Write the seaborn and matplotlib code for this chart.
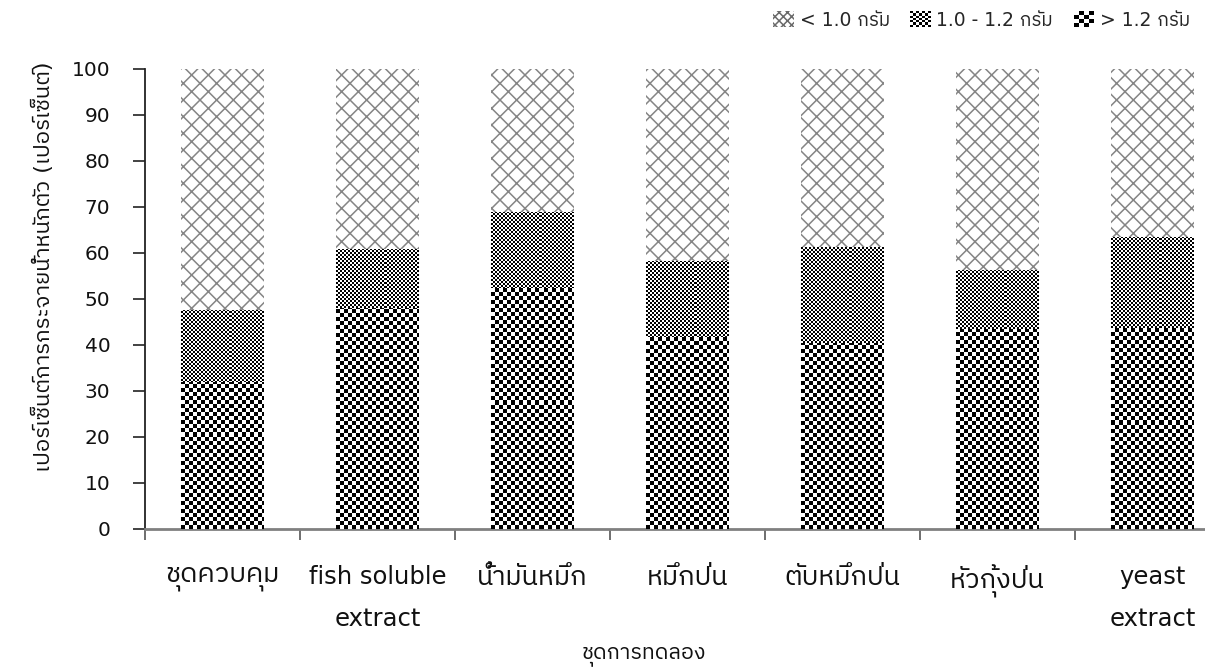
import numpy as np
import pandas as pd
import matplotlib
matplotlib.use("Agg")
import matplotlib.pyplot as plt
import seaborn as sns
from matplotlib import font_manager
from matplotlib.ft2font import FT2Font
from matplotlib.patches import Patch, Rectangle
from matplotlib.legend_handler import HandlerBase

# ---- data -------------------------------------------------------------
categories = ["ชุดควบคุม", "fish soluble\nextract", "น้ำมันหมึก", "หมึกป่น",
              "ตับหมึกป่น", "หัวกุ้งป่น", "yeast\nextract"]
over_12 = [32.0, 48.0, 52.4, 41.7, 40.4, 43.5, 43.7]      # > 1.2 g
mid_10_12 = [15.6, 12.9, 16.5, 16.6, 20.9, 12.8, 19.8]    # 1.0 - 1.2 g
under_10 = [52.4, 39.1, 31.1, 41.7, 38.7, 43.7, 36.5]     # < 1.0 g
series_labels = ["< 1.0 กรัม", "1.0 - 1.2 กรัม", "> 1.2 กรัม"]
y_ticks = [0, 10, 20, 30, 40, 50, 60, 70, 80, 90, 100]
x_title = "ชุดการทดลอง"
y_title = "เปอร์เซ็นต์การกระจายน้ำหนักตัว (เปอร์เซ็นต์)"


def thai_family():
    best = None
    for f in font_manager.fontManager.ttflist:
        try:
            cmap = FT2Font(f.fname).get_charmap()
        except Exception:
            continue
        if 0x0E01 in cmap and 0x0E49 in cmap:
            if "Thai" in f.name or "Tahoma" in f.name:
                return f.name
            best = best or f.name
    return best


def is_thai(s):
    return any(0x0E00 <= ord(c) <= 0x0E7F for c in s)


sns.set_theme(style="ticks")
fam = ["DejaVu Sans"]
tf = thai_family()
if tf:
    fam.append(tf)
plt.rcParams["font.family"] = fam
plt.rcParams["hatch.linewidth"] = 1.1

df = pd.DataFrame({"cat": categories, "low": under_10, "mid": mid_10_12, "high": over_12})
df["cum_high"] = df["high"]
df["cum_mid"] = df["high"] + df["mid"]
df["cum_all"] = df["high"] + df["mid"] + df["low"]

W, H, DPI = 1205, 671, 100
fig = plt.figure(figsize=(W / DPI, H / DPI), dpi=DPI)
ax = fig.add_axes([145 / W, 142 / H, 1085 / W, 460 / H])

bar_w = 0.53
layers = [("cum_all", "hatch"), ("cum_mid", 2), ("cum_high", 4)]
containers = []
for col, _ in layers:
    n_before = len(ax.containers)
    sns.barplot(data=df, x="cat", y=col, ax=ax, color="white", width=bar_w,
                saturation=1, edgecolor="none", linewidth=0)
    containers.append(ax.containers[n_before])

ax.set_xlim(-0.5, len(categories) - 0.5)
ax.set_ylim(0, 100)


def add_checker(ax, patch, cell_px, z):
    x0, y0 = patch.get_x(), patch.get_y()
    w, h = patch.get_width(), patch.get_height()
    p0 = ax.transData.transform((x0, y0))
    p1 = ax.transData.transform((x0 + w, y0 + h))
    wpx, hpx = abs(p1[0] - p0[0]), abs(p1[1] - p0[1])
    nx = int(np.ceil(wpx / cell_px)) + 1
    ny = int(np.ceil(hpx / cell_px)) + 1
    ii, jj = np.indices((ny, nx))
    arr = ((ii + jj) % 2).astype(float)
    # extent chosen so that each cell spans cell_px screen pixels
    x1 = x0 + w * (nx * cell_px / wpx)
    y1 = y0 + h * (ny * cell_px / hpx)
    im = ax.imshow(arr, cmap="gray", vmin=0, vmax=1, interpolation="nearest",
                   extent=(x0, x1, y0, y1), origin="lower", aspect="auto", zorder=z)
    im.set_clip_path(patch)


for k, ((col, style), cont) in enumerate(zip(layers, containers)):
    for p in cont.patches:
        p.set_zorder(2 * k + 1)
        if style == "hatch":
            p.set_hatch("xx")
            p.set_edgecolor("#858585")
            p.set_linewidth(0)
        else:
            add_checker(ax, p, style, 2 * k + 2)

ax.set_xlim(-0.5, len(categories) - 0.5)
ax.set_ylim(0, 100)

# axes styling
for s in ["top", "right"]:
    ax.spines[s].set_visible(False)
ax.spines["left"].set_color("#222222")
ax.spines["left"].set_linewidth(1.3)
ax.spines["bottom"].set_color("#808080")
ax.spines["bottom"].set_linewidth(2)

ax.set_yticks(y_ticks)
ax.set_yticklabels([str(v) for v in y_ticks], fontsize=14.5, color="#111111")
ax.tick_params(axis="y", length=9, width=1.2, color="#222222", pad=16)

ax.set_xticks(np.arange(len(categories) + 1) - 0.5)
ax.set_xticklabels([])
ax.tick_params(axis="x", which="major", length=8, width=1.2, color="#555555")
ax.set_xticks(np.arange(len(categories)), minor=True)
ax.set_xticklabels(categories, minor=True, fontsize=17.5, color="#111111", linespacing=1.95)
ax.tick_params(axis="x", which="minor", length=0, pad=26)
for t in ax.get_xticklabels(minor=True):
    if is_thai(t.get_text()):
        t.set_fontsize(19.5)

ax.set_xlabel(x_title, fontsize=15.5, color="#111111")
ax.xaxis.set_label_coords(0.46, -0.254)
ax.set_ylabel(y_title, fontsize=16, color="#111111")
ax.yaxis.set_label_coords(-0.084, 0.57)


class CheckerHandler(HandlerBase):
    def __init__(self, n):
        super().__init__()
        self.n = n

    def create_artists(self, legend, orig_handle, xdescent, ydescent,
                       width, height, fontsize, trans):
        arts = [Rectangle((-xdescent, -ydescent), width, height, facecolor="white",
                          edgecolor="none", transform=trans)]
        cw, ch = width / self.n, height / self.n
        for i in range(self.n):
            for j in range(self.n):
                if (i + j) % 2 == 0:
                    arts.append(Rectangle((-xdescent + i * cw, -ydescent + j * ch), cw, ch,
                                          facecolor="black", edgecolor="none", transform=trans))
        return arts


h_low = Patch(facecolor="white", edgecolor="#6a6a6a", hatch="xxxx", linewidth=0)
h_mid = Patch(facecolor="white")
h_high = Patch(facecolor="white", label="x")
leg = fig.legend([h_low, h_mid, h_high], series_labels, loc="center right",
                 bbox_to_anchor=(1207 / W, 1 - 20 / H), ncol=3, frameon=False,
                 fontsize=13.5, handlelength=1.1, handleheight=0.9, handletextpad=0.3,
                 columnspacing=1.1,
                 handler_map={h_mid: CheckerHandler(7), h_high: CheckerHandler(4)})

fig.savefig("out.png", dpi=DPI)
